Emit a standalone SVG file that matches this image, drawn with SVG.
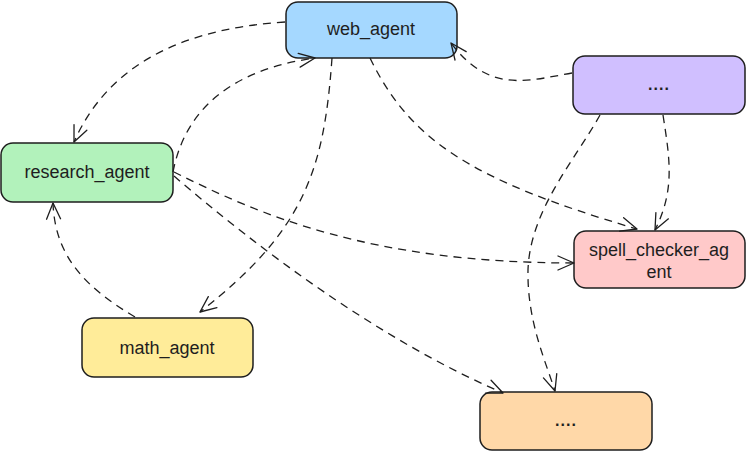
<svg xmlns="http://www.w3.org/2000/svg" width="747" height="452" viewBox="0 0 747 452">
  <defs>
    <style>
      .box { stroke: #1e1e1e; stroke-width: 1.5; }
      .lbl { font-family: "Liberation Sans", "DejaVu Sans", sans-serif; font-size: 18px; fill: #1e1e1e; text-anchor: middle; dominant-baseline: central; }
      .dots { font-family: "Liberation Sans", "DejaVu Sans", sans-serif; font-size: 16px; font-weight: bold; fill: #1e1e1e; text-anchor: middle; letter-spacing: 1px; }
      .edge { fill: none; stroke: #1e1e1e; stroke-width: 1.3; stroke-dasharray: 8 6; marker-end: url(#arrow); }
    </style>
    <marker id="arrow" viewBox="-18 -10 20 20" markerWidth="20" markerHeight="20" refX="0" refY="0" orient="auto" markerUnits="userSpaceOnUse">
      <path d="M-16,-7 L0,0 L-16,7" fill="none" stroke="#1e1e1e" stroke-width="1.3" stroke-linecap="round" stroke-linejoin="round"/>
    </marker>
  </defs>
  <rect width="747" height="452" fill="#ffffff"/>

  <g id="web_agent">
    <rect class="box" x="286" y="2" width="171" height="56" rx="12" fill="#a5d8ff"/>
    <text class="lbl" x="371" y="29">web_agent</text>
  </g>
  <g id="research_agent">
    <rect class="box" x="1" y="143" width="172" height="59" rx="12" fill="#b2f2bb"/>
    <text class="lbl" x="87" y="172">research_agent</text>
  </g>
  <g id="purple_node">
    <rect class="box" x="573" y="56" width="172" height="58" rx="12" fill="#d0bfff"/>
    <text class="dots" x="659" y="90">....</text>
  </g>
  <g id="spell_checker_agent">
    <rect class="box" x="574" y="231" width="171" height="57" rx="12" fill="#ffc9c9"/>
    <text class="lbl" x="659" y="250">spell_checker_ag</text>
    <text class="lbl" x="659" y="272">ent</text>
  </g>
  <g id="math_agent">
    <rect class="box" x="82" y="318" width="171" height="59" rx="12" fill="#ffec99"/>
    <text class="lbl" x="167" y="348">math_agent</text>
  </g>
  <g id="orange_node">
    <rect class="box" x="480" y="392" width="172" height="58" rx="12" fill="#ffd8a8"/>
    <text class="dots" x="566" y="426">....</text>
  </g>

  <g id="connectors">
    <path class="edge" d="M285,22 C190,28 110,60 74,142"/>
    <path class="edge" d="M173,172 C185,110 230,70 315,58"/>
    <path class="edge" d="M332,58 C324,170 305,230 200,312"/>
    <path class="edge" d="M370,58 C410,140 470,180 637,229"/>
    <path class="edge" d="M572,73 C530,80 490,95 451,43"/>
    <path class="edge" d="M600,115 C575,160 530,210 528,270 C527,320 545,360 555,391"/>
    <path class="edge" d="M663,115 C670,160 675,190 655,230"/>
    <path class="edge" d="M174,172 C260,215 370,263 574,263"/>
    <path class="edge" d="M174,176 C260,250 380,340 503,393"/>
    <path class="edge" d="M135,317 C90,290 55,260 53,203"/>
  </g>
</svg>
